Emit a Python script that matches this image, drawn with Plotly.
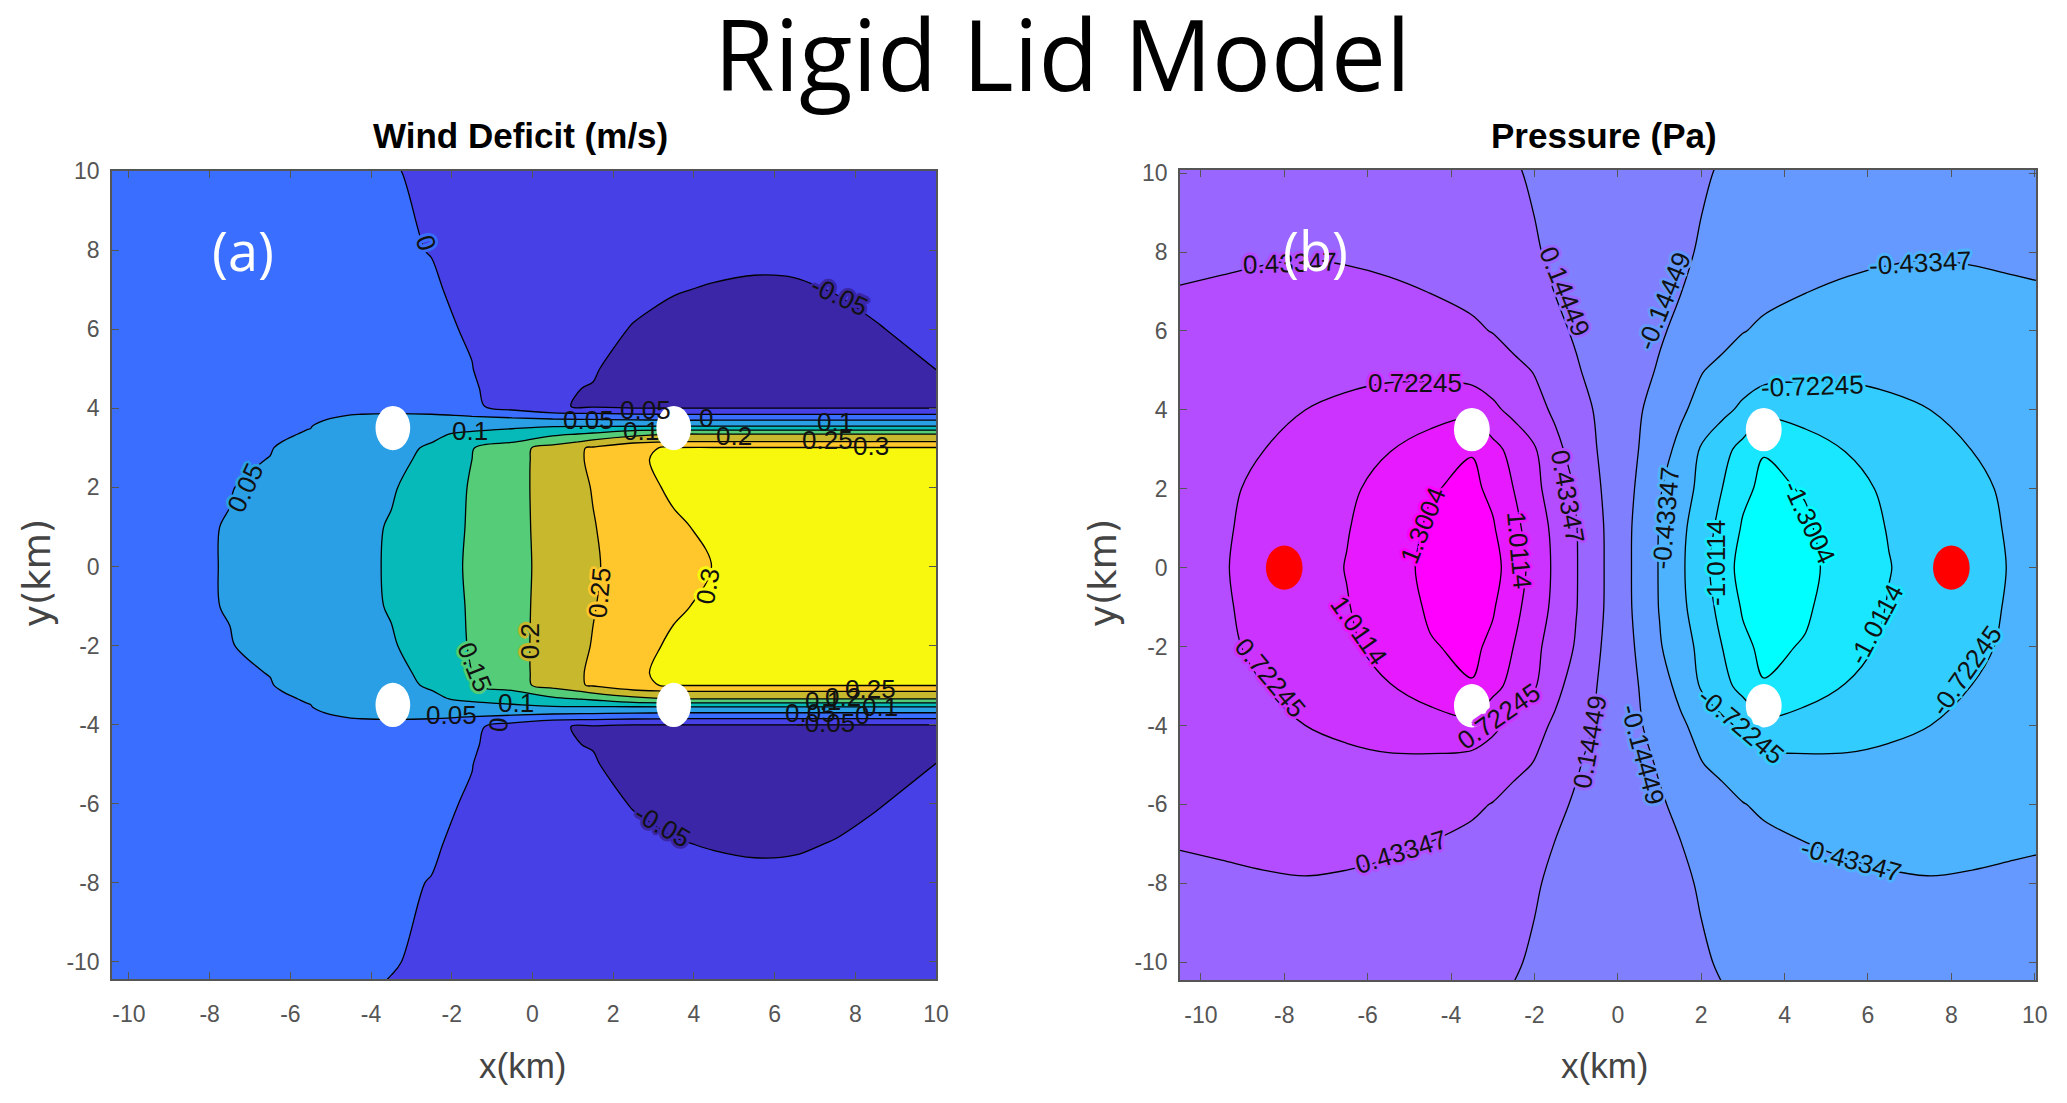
import plotly.graph_objects as go

# ---------- Panel (a): wind deficit, upper half (mirrored in y) ----------
wind_x = [-10.5,-8.5,-7.5,-6.5,-5.5,-4.5,-3.5,-2.5,-1.5,-0.5,0.5,1.5,2.5,3.5,4.5,5.5,6.5,7.5,8.5,10]
wind_y_top = [10.5,10,8,7,6,5,4.5,4.05,3.85,3.7,3.55,3.45,3.35,3.15,3.0,2.7,2,1,0]
wind_top = [
 [.03,.025,.02,.015,.01,.005,-.001,-.007,-.012,-.014,-.016,-.018,-.02,-.022,-.024,-.025,-.025,-.025,-.024,-.023],
 [.03,.026,.022,.018,.013,.008,.002,-.006,-.011,-.015,-.018,-.02,-.022,-.025,-.027,-.028,-.028,-.028,-.027,-.026],
 [.035,.03,.026,.022,.016,.011,.005,-.001,-.012,-.02,-.026,-.03,-.034,-.038,-.041,-.043,-.043,-.042,-.04,-.037],
 [.04,.034,.03,.026,.02,.014,.009,.004,-.01,-.025,-.033,-.04,-.045,-.0485,-.052,-.054,-.053,-.049,-.046,-.042],
 [.046,.042,.04,.036,.03,.022,.015,.008,-.004,-.028,-.037,-.044,-.051,-.058,-.064,-.066,-.065,-.058,-.051,-.045],
 [.047,.044,.042,.04,.036,.03,.022,.012,.001,-.03,-.04,-.048,-.06,-.07,-.076,-.08,-.08,-.075,-.065,-.0495],
 [.048,.046,.045,.043,.04,.035,.027,.017,.008,-.035,-.0475,-.051,-.075,-.085,-.09,-.095,-.095,-.09,-.08,-.06],
 [.048,.046,.045,.043,.041,.038,.033,.022,.01,-.022,-.045,-.056,-.065,-.065,-.065,-.065,-.065,-.065,-.065,-.065],
 [.047,.047,.046,.045,.047,.0495,.0515,.05,.042,.025,.01,.006,.002,-.001,-.001,-.001,-.001,-.001,-.001,-.001],
 [.047,.047,.047,.047,.0478,.054,.062,.064,.065,.066,.06,.056,.053,.0495,.0495,.0495,.0495,.0495,.0495,.0495],
 [.047,.047,.047,.0475,.0495,.06,.07,.078,.088,.09,.096,.097,.098,.099,.099,.099,.099,.099,.099,.099],
 [.047,.047,.047,.0475,.0503,.063,.076,.09,.096,.105,.125,.135,.145,.149,.149,.149,.149,.149,.149,.149],
 [.047,.047,.047,.0478,.051,.067,.08,.094,.108,.125,.142,.155,.185,.199,.199,.199,.199,.199,.199,.199],
 [.046,.047,.047,.0482,.0545,.071,.085,.099,.125,.147,.175,.215,.24,.252,.252,.252,.252,.252,.252,.252],
 [.046,.046,.046,.049,.06,.072,.085,.106,.148,.178,.224,.256,.295,.303,.303,.303,.303,.303,.303,.303],
 [.046,.046,.0465,.0505,.063,.075,.089,.11,.15,.18,.225,.257,.29,.315,.325,.335,.34,.345,.35,.355],
 [.045,.045,.049,.057,.068,.08,.096,.121,.154,.183,.222,.252,.282,.308,.32,.33,.34,.345,.35,.355],
 [.044,.047,.051,.062,.074,.087,.103,.126,.155,.185,.218,.248,.272,.293,.31,.325,.335,.342,.348,.355],
 [.044,.047,.0512,.063,.075,.088,.104,.13,.156,.186,.215,.246,.267,.285,.301,.32,.332,.34,.346,.352],
]
wind_y = wind_y_top + [-v for v in wind_y_top[-2::-1]]
wind_z = wind_top + wind_top[-2::-1]
wind_levels = [-.05,0,.05,.1,.15,.2,.25,.3]
wind_colors = ["#3A26A6","#4640E6","#3A6EFF","#2A9FE6","#06BABA","#55CC78","#C8B82E","#FFC72C","#F8F80F"]

# ---------- Panel (b): pressure, one quadrant (mirrored) ----------
pres_x_left = [-10.5,-9.5,-8.5,-7.5,-6.5,-5.5,-4.5,-3.5,-3,-2.5,-2,-1.5,-1,-.5,0]
pres_y_top = [10.5,10,8,7,6,5,4,3,2,1,0]
pres_left = [
 [.31,.32,.32,.31,.29,.27,.25,.2,.175,.145,.115,.08,.045,.02,0],
 [.33,.34,.34,.335,.32,.30,.27,.22,.19,.16,.125,.09,.05,.02,0],
 [.40,.41,.42,.425,.415,.39,.35,.29,.25,.205,.16,.115,.07,.03,0],
 [.44,.45,.46,.47,.47,.46,.43,.38,.32,.26,.2,.14,.09,.04,0],
 [.46,.485,.5,.52,.53,.535,.525,.47,.425,.34,.26,.19,.12,.055,0],
 [.48,.52,.56,.60,.64,.66,.65,.60,.57,.50,.42,.28,.165,.08,0],
 [.53,.60,.665,.722,.79,.86,.90,.93,.78,.65,.52,.39,.265,.115,0],
 [.56,.64,.72,.81,.90,1.0,1.13,1.285,1.1,.92,.75,.50,.33,.145,0],
 [.58,.68,.77,.86,.97,1.09,1.28,1.36,1.24,1.01,.79,.60,.41,.18,0],
 [.59,.695,.79,.89,1.0,1.13,1.34,1.46,1.33,1.09,.88,.65,.445,.215,0],
 [.60,.705,.80,.90,1.02,1.14,1.39,1.5,1.40,1.16,.91,.67,.45,.22,0],
]
pres_levels = [-1.3004,-1.0114,-.72245,-.43347,-.14449,.14449,.43347,.72245,1.0114,1.3004]
pres_x = pres_x_left + [-v for v in pres_x_left[-2::-1]]
pres_y = pres_y_top + [-v for v in pres_y_top[-2::-1]]
pres_rows = [r + [-v for v in r[-2::-1]] for r in pres_left]
pres_z = pres_rows + pres_rows[-2::-1]
pres_colors = ["#00FFFF","#19E6FF","#33CCFF","#4DB3FF","#6699FF","#8080FF","#9966FF","#B34DFF","#CC33FF","#E619FF","#FF00FF"]

# ---------- Turbine positions ----------
wind_white_x = [-3.46,3.5,-3.46,3.5]
wind_white_y = [3.5,3.5,-3.5,-3.5]
pres_white_x = [-3.5,3.5,-3.5,3.5]
pres_white_y = [3.5,3.5,-3.5,-3.5]
pres_red_x = [-8,8]
pres_red_y = [0,0]

tick_vals = list(range(-10,11,2))

# ---------- Contour labels: text, x, y, angle, masks-the-line ----------
wind_labels = [
 ("0",-2.65,8.2,72,1),("-0.05",7.6,6.85,25,1),("0.05",-7.1,2.0,-65,1),
 ("0.1",-1.54,3.42,0,0),("0.05",1.4,3.7,0,0),("0.05",2.8,3.95,0,0),("0.1",2.7,3.42,0,0),
 ("0",4.3,3.75,0,0),("0.2",5.0,3.3,0,0),("0.1",7.5,3.65,0,0),("0.25",7.3,3.2,0,0),("0.3",8.4,3.05,0,0),
 ("0.25",1.67,-.65,-85,1),("0.3",4.35,-.5,-80,1),("0.2",-.07,-1.9,-90,1),("0.15",-1.44,-2.55,68,1),
 ("0.05",-2.0,-3.75,0,0),("0.1",-.4,-3.45,0,0),("0",-.85,-4.0,-85,0),("-0.05",3.23,-6.55,30,1),
 ("0.05",6.9,-3.7,0,0),("-0.05",7.25,-3.95,0,0),("0.1",7.2,-3.4,0,0),("0",8.17,-3.75,0,0),
 ("0.1",8.6,-3.55,0,0),("0.25",8.37,-3.1,0,0),("0.2",7.7,-3.3,0,0),
]
pres_labels = [
 ("0.43347",-7.85,7.72,-2,1),("0.14449",-1.26,7.0,68,1),("-0.14449",1.11,6.75,-68,1),("-0.43347",7.26,7.72,-3,1),
 ("0.72245",-4.86,4.68,0,1),("-0.72245",4.67,4.6,-2,1),("0.43347",-1.19,1.8,80,1),("-0.43347",1.16,1.25,-85,1),
 ("1.3004",-4.67,1.08,-68,1),("1.0114",-2.37,.44,85,1),("-1.0114",2.37,.11,-90,1),("-1.3004",4.6,1.17,65,1),
 ("1.0114",-6.2,-1.6,55,1),("-1.0114",6.2,-1.43,-62,1),("0.72245",-8.33,-2.8,50,1),("-0.72245",8.37,-2.6,-55,1),
 ("0.72245",-2.84,-3.77,-35,1),("-0.72245",2.96,-4.0,40,1),("0.14449",-.67,-4.42,-80,1),("-0.14449",.6,-4.75,75,1),
 ("0.43347",-5.2,-7.2,-17,1),("-0.43347",5.6,-7.4,15,1),
]

W, H = 2067, 1103
SANS = "Liberation Sans, Arial"
fig = go.Figure()

def scale(colors):
    n = len(colors)-1
    return [[i/n, c] for i, c in enumerate(colors)]

fig.add_trace(go.Contour(x=wind_x, y=wind_y, z=wind_z, xaxis="x", yaxis="y",
    zmin=wind_levels[0]-.025, zmax=wind_levels[-1]+.025, zauto=False, colorscale=scale(wind_colors), showscale=False,
    contours=dict(start=wind_levels[0], end=wind_levels[-1], size=.05, coloring="fill", showlines=True),
    line=dict(color="black", width=1.3, smoothing=1), hoverinfo="skip"))
fig.add_trace(go.Contour(x=pres_x, y=pres_y, z=pres_z, xaxis="x2", yaxis="y2",
    zmin=pres_levels[0]-.14449, zmax=pres_levels[-1]+.14449, zauto=False, colorscale=scale(pres_colors), showscale=False,
    contours=dict(start=pres_levels[0], end=1.33, size=.28898, coloring="fill", showlines=True),
    line=dict(color="black", width=1.3, smoothing=1), hoverinfo="skip"))

axis = dict(showgrid=False, zeroline=False, showline=True, linecolor="#555555", linewidth=1.5, mirror="ticks",
            ticks="inside", ticklen=7, tickcolor="#555555", tickwidth=1, tickmode="array", tickvals=tick_vals,
            ticktext=[str(v) for v in tick_vals], tickfont=dict(family=SANS, size=23, color="#555555"),
            layer="above traces")
fig.update_layout(
    width=W, height=H, margin=dict(l=0, r=0, t=0, b=0, autoexpand=False), paper_bgcolor="white", plot_bgcolor="white", showlegend=False,
    xaxis=dict(axis, domain=[112/W, 936/W], range=[-10.42,10], anchor="y", ticklabelstandoff=14),
    yaxis=dict(axis, domain=[(H-979)/H, (H-171)/H], range=[-10.43,10], anchor="x", ticklabelstandoff=6),
    xaxis2=dict(axis, domain=[1180/W, 2036/W], range=[-10.5,10.03], anchor="y2", ticklabelstandoff=14),
    yaxis2=dict(axis, domain=[(H-980)/H, (H-170)/H], range=[-10.45,10.08], anchor="x2", ticklabelstandoff=6),
)

def ellipses(xs, ys, xref, yref, rx, ry, color):
    for cx, cy in zip(xs, ys):
        fig.add_shape(type="circle", xref=xref, yref=yref, x0=cx-rx, x1=cx+rx, y0=cy-ry, y1=cy+ry,
                      fillcolor=color, line_width=0, layer="above")

ellipses(wind_white_x, wind_white_y, "x", "y", .43, .56, "white")
ellipses(pres_white_x, pres_white_y, "x2", "y2", .43, .55, "white")
ellipses(pres_red_x, pres_red_y, "x2", "y2", .44, .56, "#FF0000")

def band(levels, colors, value):
    v = float(value)
    i = min(range(len(levels)), key=lambda k: abs(levels[k]-v))
    return colors[i+1] if v >= 0 else colors[i]

def halo(c):
    steps = [(2,0),(-2,0),(0,2),(0,-2),(2,2),(-2,2),(2,-2),(-2,-2),(3,0),(-3,0),(0,3),(0,-3)]
    return ",".join(f"{a}px {b}px 0 {c}" for a, b in steps)

def labels(items, levels, colors, xref, yref):
    for text, x, y, ang, mask in items:
        font = dict(family=SANS, size=26, color="#111111")
        if mask:
            font["shadow"] = halo(band(levels, colors, text))
        fig.add_annotation(x=x, y=y, xref=xref, yref=yref, text=text, textangle=ang, showarrow=False, font=font)

labels(wind_labels, wind_levels, wind_colors, "x", "y")
labels(pres_labels, pres_levels, pres_colors, "x2", "y2")

def text(s, px, py, size, color="black", family=SANS, angle=0, bold=False):
    fig.add_annotation(x=px/W, y=1-py/H, xref="paper", yref="paper", text=f"<b>{s}</b>" if bold else s,
                       showarrow=False, textangle=angle, xanchor="center", yanchor="middle",
                       font=dict(family=family, size=size, color=color))

text("Rigid Lid Model", 1062, 53, 98, family="Open Sans")
text("Wind Deficit (m/s)", 520, 136, 35, bold=True)
text("Pressure (Pa)", 1604, 136, 35, bold=True)
text("x(km)", 522, 1065, 35, color="#444444")
text("x(km)", 1604, 1065, 35, color="#444444")
text("y(km)", 37, 573, 37, color="#444444", family="DejaVu Sans", angle=-90)
text("y(km)", 1103, 573, 37, color="#444444", family="DejaVu Sans", angle=-90)
text("(a)", 243, 250, 54, color="white", family="Open Sans")
text("(b)", 1315, 250, 54, color="white", family="Open Sans")

fig.write_html("out.html", config={"displayModeBar": False},
               post_script="document.body.style.margin='0';document.documentElement.style.overflow='hidden';")
